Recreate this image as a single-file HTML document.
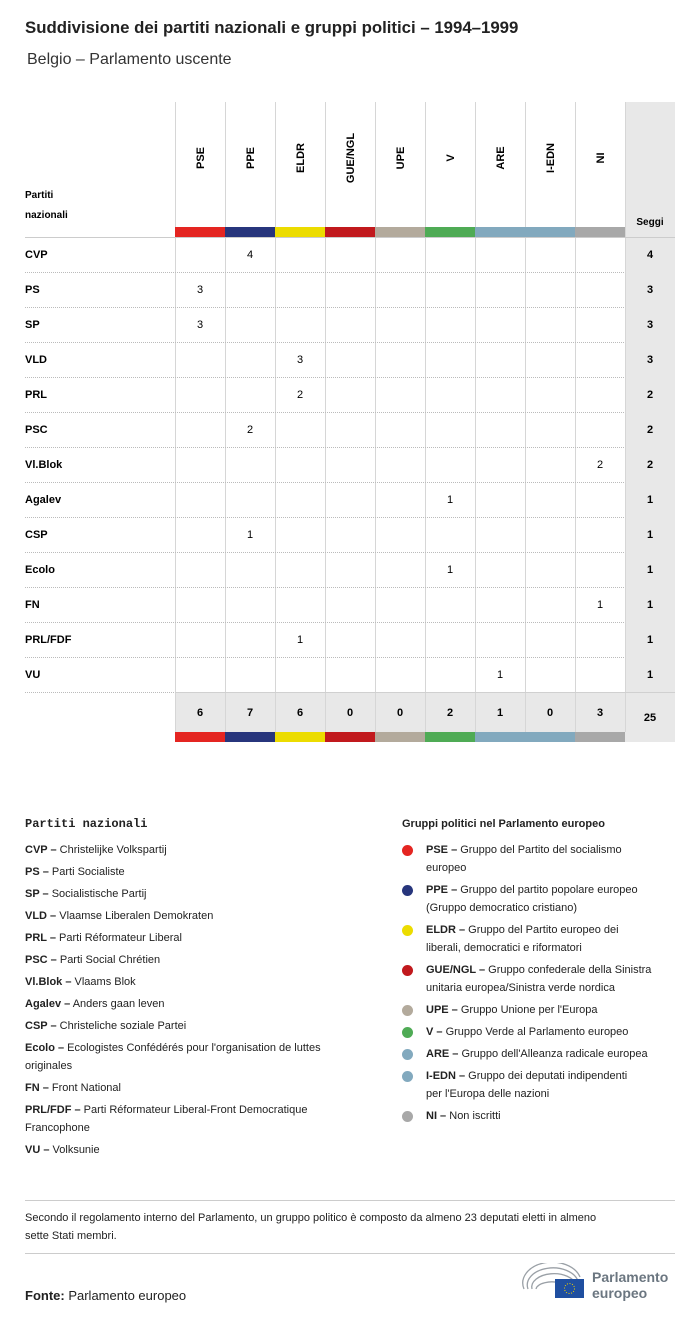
<!DOCTYPE html>
<html><head><meta charset="utf-8">
<style>
body{margin:0;width:700px;height:1321px;background:#fff;font-family:"Liberation Sans",sans-serif;color:#222;position:relative;overflow:hidden}
.a{position:absolute}
.t{font-size:11px}
.b{font-weight:bold}
</style></head><body>
<div class="a b" style="left:25px;top:18px;font-size:16.8px">Suddivisione dei partiti nazionali e gruppi politici – 1994–1999</div>
<div class="a" style="left:27px;top:51px;font-size:16px;color:#333">Belgio – Parlamento uscente</div>
<svg class="a" style="left:0;top:0" width="700" height="760" id="tbl"></svg>
<div class="a b" style="left:25px;top:817px;font-family:'Liberation Mono',monospace;font-size:12px">Partiti nazionali</div>
<div id="legL"></div>
<div class="a b" style="left:402px;top:818px;font-size:11px">Gruppi politici nel Parlamento europeo</div>
<div id="legR"></div>
<div class="a" style="left:25px;top:1200px;width:650px;height:1px;background:#ccc"></div>
<div class="a t" style="left:25px;top:1209px;width:580px;line-height:18px">Secondo il regolamento interno del Parlamento, un gruppo politico è composto da almeno 23 deputati eletti in almeno sette Stati membri.</div>
<div class="a" style="left:25px;top:1253px;width:650px;height:1px;background:#ccc"></div>
<div class="a" style="left:25px;top:1288px;font-size:13px"><b>Fonte:</b> Parlamento europeo</div>
<svg class="a" style="left:520px;top:1263px" width="66" height="36">
<g fill="none" stroke="#9aa0a6" stroke-width="1.3"><path d="M4 26 A28 20 0 0 1 60 14"/><path d="M8 26 A24 16 0 0 1 58 18"/><path d="M12 26 A20 12 0 0 1 56 22"/><path d="M16 26 A16 8 0 0 1 40 20"/></g>
<rect x="35" y="16" width="29" height="19" fill="#1f4fa0"/><circle cx="49.5" cy="25.5" r="5" fill="none" stroke="#f2d200" stroke-dasharray="1 1.6"/></svg>
<div class="a b" style="left:592px;top:1269px;font-size:14px;color:#6b7680;line-height:16px">Parlamento<br>europeo</div>
<script>
const groups=["PSE","PPE","ELDR","GUE/NGL","UPE","V","ARE","I-EDN","NI"];
const groupColors=["#e42521","#27357c","#ecdc00","#c1191d","#b3aa9c","#4fab55","#82a9be","#82a9be","#a8a8a8"];
const parties=["CVP","PS","SP","VLD","PRL","PSC","Vl.Blok","Agalev","CSP","Ecolo","FN","PRL/FDF","VU"];
const seatGroup=[1,0,0,2,2,1,8,5,1,5,8,2,6];
const seatCount=[4,3,3,3,2,2,2,1,1,1,1,1,1];
const totals=[6,7,6,0,0,2,1,0,3];
const total=25;
(function(){
const s=document.getElementById('tbl');const NS='http://www.w3.org/2000/svg';
function mk(t,a,txt){const e=document.createElementNS(NS,t);for(const k in a)e.setAttribute(k,a[k]);if(txt!=null)e.textContent=txt;s.appendChild(e);return e;}
const x0=175,cw=50,ty=102,hb=237,rh=35;const tb=hb+parties.length*rh;
let e=mk('rect',{x:x0+groups.length*cw,y:ty,width:50,height:tb+50-ty,fill:'#e8e8e8'});

e=mk('rect',{x:x0,y:tb,width:groups.length*cw,height:40,fill:'#e8e8e8'});

for(let i=0;i<=groups.length;i++){e=mk('line',{x1:x0+i*cw+.5,y1:ty,x2:x0+i*cw+.5,y2:tb+40,stroke:'#d6d6d6'});
}
groups.forEach((g,i)=>{const cx=x0+i*cw+cw/2;
e=mk('text',{x:0,y:0,transform:`translate(${cx+4},158) rotate(-90)`,'text-anchor':'middle','font-size':'11','font-weight':'bold'},g);

e=mk('rect',{x:x0+i*cw,y:hb-10,width:cw,height:10,fill:groupColors[i]});

e=mk('rect',{x:x0+i*cw,y:tb+40,width:cw,height:10,fill:groupColors[i]});

e=mk('text',{x:cx,y:tb+24,'text-anchor':'middle','font-size':'11','font-weight':'bold'},totals[i]);
});
e=mk('text',{x:25,y:198,'font-size':'10','font-weight':'bold'},'Partiti');
e=mk('text',{x:25,y:218,'font-size':'10','font-weight':'bold'},'nazionali');
e=mk('text',{x:650,y:225,'text-anchor':'middle','font-size':'10','font-weight':'bold'},'Seggi');
e=mk('line',{x1:25,y1:hb+.5,x2:675,y2:hb+.5,stroke:'#ccc'});
parties.forEach((p,r)=>{const y=hb+r*rh;
e=mk('text',{x:25,y:y+21,'font-size':'11','font-weight':'bold'},p);
e=mk('text',{x:x0+seatGroup[r]*cw+cw/2,y:y+21,'text-anchor':'middle','font-size':'11'},seatCount[r]);
e=mk('text',{x:650,y:y+21,'text-anchor':'middle','font-size':'11','font-weight':'bold'},seatCount[r]);
e=mk('line',{x1:25,y1:y+rh+.5,x2:r==parties.length-1?x0:625,y2:y+rh+.5,stroke:'#bbb','stroke-dasharray':'1 1'});});
e=mk('line',{x1:x0,y1:tb+.5,x2:675,y2:tb+.5,stroke:'#d0d0d0'});
e=mk('text',{x:650,y:tb+29,'text-anchor':'middle','font-size':'11','font-weight':'bold'},total);

const legL=[["CVP","Christelijke Volkspartij"],["PS","Parti Socialiste"],["SP","Socialistische Partij"],["VLD","Vlaamse Liberalen Demokraten"],["PRL","Parti Réformateur Liberal"],["PSC","Parti Social Chrétien"],["Vl.Blok","Vlaams Blok"],["Agalev","Anders gaan leven"],["CSP","Christeliche soziale Partei"],["Ecolo","Ecologistes Confédérés pour l'organisation de luttes<br>originales"],["FN","Front National"],["PRL/FDF","Parti Réformateur Liberal-Front Democratique<br>Francophone"],["VU","Volksunie"]];
let y=841;const L=document.getElementById('legL');
legL.forEach(([k,v])=>{const d=document.createElement('div');d.className='a t';d.style.cssText=`left:25px;top:${y}px;line-height:18px`;d.innerHTML=`<b>${k} –</b> ${v}`;
L.appendChild(d);y+=v.includes('<br>')?40:22;});
const legR=[["PSE","Gruppo del Partito del socialismo<br>europeo"],["PPE","Gruppo del partito popolare europeo<br>(Gruppo democratico cristiano)"],["ELDR","Gruppo del Partito europeo dei<br>liberali, democratici e riformatori"],["GUE/NGL","Gruppo confederale della Sinistra<br>unitaria europea/Sinistra verde nordica"],["UPE","Gruppo Unione per l'Europa"],["V","Gruppo Verde al Parlamento europeo"],["ARE","Gruppo dell'Alleanza radicale europea"],["I-EDN","Gruppo dei deputati indipendenti<br>per l'Europa delle nazioni"],["NI","Non iscritti"]];
y=841;const R=document.getElementById('legR');
legR.forEach(([k,v],i)=>{const c=document.createElement('div');c.className='a';c.style.cssText=`left:402px;top:${y+4}px;width:11px;height:11px;border-radius:50%;background:${groupColors[i]}`;
R.appendChild(c);
const d=document.createElement('div');d.className='a t';d.style.cssText=`left:426px;top:${y}px;line-height:18px`;d.innerHTML=`<b>${k} –</b> ${v}`;
R.appendChild(d);y+=v.includes('<br>')?40:22;});
})();
</script>
</body></html>
